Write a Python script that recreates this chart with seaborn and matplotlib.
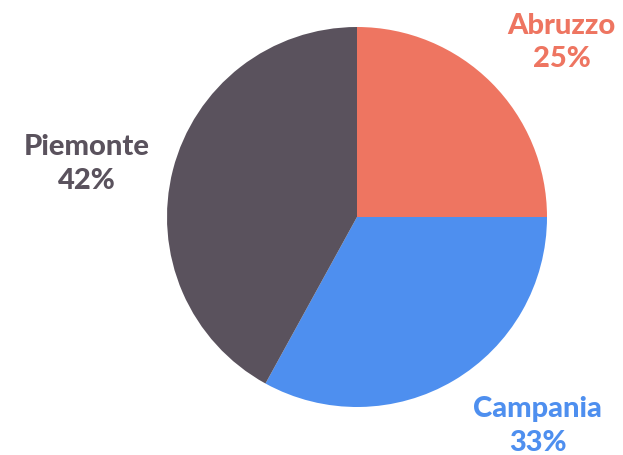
import matplotlib.pyplot as plt
import numpy as np
import seaborn as sns

# data
regions = ["Abruzzo", "Campania", "Piemonte"]
shares = [25, 33, 42]
colors = ["#EE7561", "#4E8FEF", "#5A525D"]

# label placement (angle in degrees, distance in pie radii)
label_angles = [40.6, -49.0, 168.7]
label_dist = [1.42, 1.45, 1.45]

sns.set_theme(style="white")
plt.rcParams["font.family"] = ["Lato", "DejaVu Sans"]

fig = plt.figure(figsize=(6.23, 4.56), dpi=100)
ax = fig.add_axes([0, 0, 1, 1])

cx, cy, r = 357, 456 - 218, 190

ax.pie(
    shares,
    colors=colors,
    startangle=90,
    counterclock=False,
    center=(cx, cy),
    radius=r,
    wedgeprops={"linewidth": 0},
)

for name, val, col, ang, d in zip(regions, shares, colors, label_angles, label_dist):
    a = np.deg2rad(ang)
    ax.text(
        cx + d * r * np.cos(a),
        cy + d * r * np.sin(a),
        f"{name}\n{val}%",
        color=col,
        fontsize=21,
        fontweight="black",
        ha="center",
        va="center",
        linespacing=1.35,
    )

ax.set_xlim(0, 623)
ax.set_ylim(0, 456)
ax.set_aspect("equal")
ax.axis("off")

fig.savefig("out.png", dpi=100)
